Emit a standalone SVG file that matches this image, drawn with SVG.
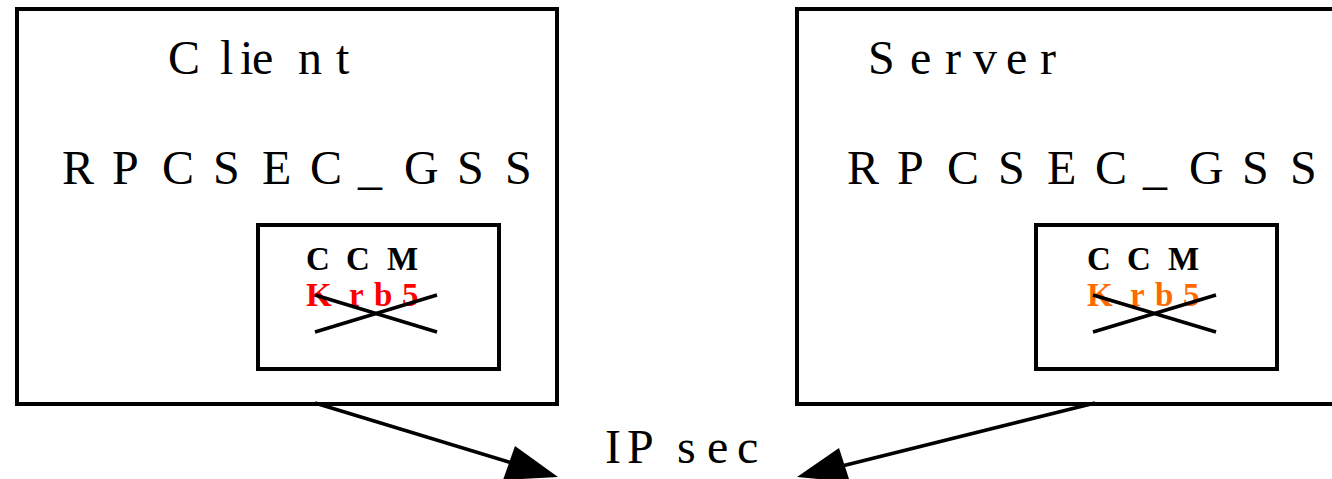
<svg xmlns="http://www.w3.org/2000/svg" width="1332" height="479" viewBox="0 0 1332 479">
<style>
.box{fill:none;stroke:#000;stroke-width:4}
.inner{fill:none;stroke:#000;stroke-width:4}
.t{font-family:'Times New Roman','Liberation Serif','DejaVu Serif',serif;font-size:48px;font-weight:normal;fill:#000}
.b{font-family:'Times New Roman','Liberation Serif','DejaVu Serif',serif;font-size:33px;font-weight:bold}
.x{stroke:#000;stroke-width:3.5;fill:none}
.conn{stroke:#000;stroke-width:3.5;fill:none}
</style>
<rect width="1332" height="479" fill="#fff"/>
<g id="client">
<rect class="box" x="17" y="9" width="540" height="395"/>
<text class="t" x="168 220 240 252 298 336" y="74">Client</text>
<text class="t" x="62 112 162 213 262 310 358 404 457 505" y="184">RPCSEC_GSS</text>
</g>
<g id="client-ccm">
<rect class="inner" x="258" y="225" width="241" height="144"/>
<text class="b" x="306 346 387" y="270" fill="#000">CCM</text>
<text class="b" x="306 349 374 402" y="306" fill="#ff0000">Krb5</text>
<line class="x" x1="315" y1="295" x2="437" y2="332"/>
<line class="x" x1="315" y1="332" x2="437" y2="295"/>
</g>
<g id="server">
<rect class="box" x="797" y="9" width="560" height="395"/>
<text class="t" x="868 910 945 973 1006 1040" y="74">Server</text>
<text class="t" x="847 897 947 998 1047 1095 1143 1189 1242 1290" y="184">RPCSEC_GSS</text>
</g>
<g id="server-ccm">
<rect class="inner" x="1036" y="225" width="241" height="144"/>
<text class="b" x="1087 1127 1168" y="270" fill="#000">CCM</text>
<text class="b" x="1087 1130 1155 1183" y="306" fill="#ff6a00">Krb5</text>
<line class="x" x1="1093" y1="295" x2="1216" y2="332"/>
<line class="x" x1="1093" y1="332" x2="1216" y2="295"/>
</g>
<g id="ipsec">
<text class="t" x="605 627 677 707 737" y="463">IPsec</text>
</g>
<g id="connectors">
<line class="conn" x1="315" y1="403" x2="512" y2="463"/>
<polygon points="558,477 503,480 515,446" fill="#000"/>
<line class="conn" x1="1095" y1="403" x2="842" y2="466"/>
<polygon points="797,477 850,482 839,448" fill="#000"/>
</g>
</svg>
